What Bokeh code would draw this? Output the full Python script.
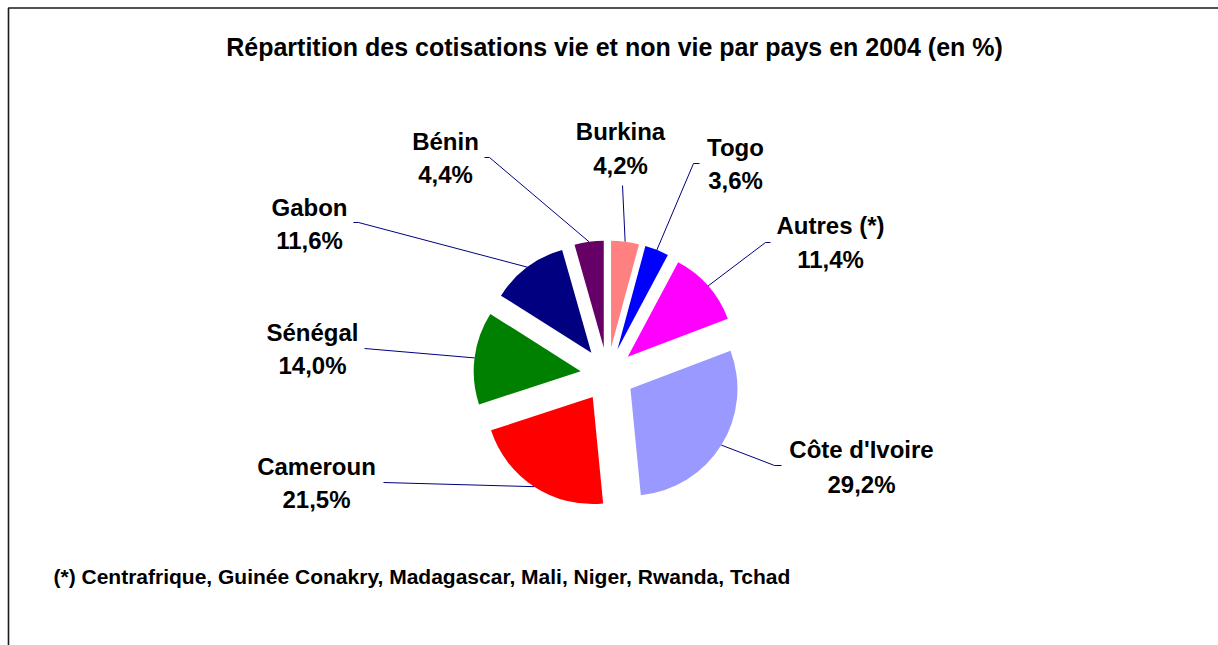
import math
from bokeh.plotting import figure
from bokeh.models import Range1d
from bokeh.core.properties import value
from bokeh.embed import file_html
from bokeh.resources import INLINE

# ---------------- data ----------------
countries = ["Burkina", "Togo", "Autres (*)", "Côte d'Ivoire", "Cameroun", "Sénégal", "Gabon", "Bénin"]
shares = [4.2, 3.6, 11.4, 29.2, 21.5, 14.0, 11.6, 4.4]
colors = ["#FF8080", "#0000FF", "#FF00FF", "#9999FF", "#FF0000", "#008000", "#000080", "#660066"]
title_text = "Répartition des cotisations vie et non vie par pays en 2004 (en %)"
footnote_text = "(*) Centrafrique, Guinée Conakry, Madagascar, Mali, Niger, Rwanda, Tchad"

# ---------------- layout (page pixel coords) ----------------
W, H = 1218, 645
def X(px):
    return px
def Y(py):
    return H - py

CX, CY = 607, 374      # pie centre
R = 107                # slice radius
EXPLODE = 27           # explosion offset
TXT_DY = 8             # text placement correction

# label positions: (x_center, name_y, pct_y)
label_pos = {
    "Burkina": (620, 139, 173),
    "Togo": (735, 155, 188),
    "Autres (*)": (830, 233, 267),
    "Côte d'Ivoire": (861, 457, 492),
    "Cameroun": (316, 474, 507),
    "Sénégal": (312, 340, 373),
    "Gabon": (309, 215, 248),
    "Bénin": (445, 149, 182),
}
# leader line anchor points near labels
leader_anchor = {
    "Burkina": [(622, 185)],
    "Togo": [(699, 163), (693, 163)],
    "Autres (*)": [(770, 242), (765, 242)],
    "Côte d'Ivoire": [(781, 465), (774, 465)],
    "Cameroun": [(383, 482)],
    "Sénégal": [(364, 348)],
    "Gabon": [(353, 222), (358, 222)],
    "Bénin": [(484, 157), (489, 157)],
}

FONT = value("Liberation Sans")

p = figure(width=W, height=H, x_range=Range1d(0, W), y_range=Range1d(0, H),
           output_backend="svg", toolbar_location=None, min_border=0,
           x_axis_type=None, y_axis_type=None)
p.grid.visible = False
p.outline_line_color = None
p.background_fill_color = "white"
p.border_fill_color = "white"

# frame (top and left edges visible in the reference)
p.line(x=[X(8), X(8), X(1300)], y=[Y(700), Y(7.5), Y(7.5)], line_color="#1a1a1a", line_width=1.6)

# ---------------- pie ----------------
total = sum(shares)
cum = 0.0
wx, wy, sa, ea, lx, ly, names_, pcts, nx, ny, pyb = [], [], [], [], [], [], [], [], [], [], []
for name, v, c in zip(countries, shares, colors):
    a0 = cum / total * 360.0
    cum += v
    a1 = cum / total * 360.0
    mid = math.radians((a0 + a1) / 2)
    cx = X(CX) + EXPLODE * math.sin(mid)
    cy = Y(CY) + EXPLODE * math.cos(mid)
    wx.append(cx)
    wy.append(cy)
    sa.append(math.radians(90 - a1))
    ea.append(math.radians(90 - a0))
    # leader line
    ex = cx + R * math.sin(mid)
    ey = cy + R * math.cos(mid)
    pts = leader_anchor[name]
    lx.append([X(a) for a, b in pts] + [ex])
    ly.append([Y(b) for a, b in pts] + [ey])
    # labels
    lxc, b1, b2 = label_pos[name]
    names_.append(name)
    pcts.append(("%.1f%%" % v).replace(".", ","))
    nx.append(X(lxc))
    ny.append(Y(b1 - TXT_DY))
    pyb.append(Y(b2 - TXT_DY))

p.wedge(x=wx, y=wy, radius=R, start_angle=sa, end_angle=ea, direction="anticlock",
        fill_color=colors, line_color=None)

p.multi_line(xs=lx, ys=ly, line_color="#000080", line_width=1)

p.text(x=nx, y=ny, text=names_, text_font=FONT, text_font_style="bold",
       text_font_size="24px", text_align="center", text_baseline="alphabetic", text_color="black")
p.text(x=nx, y=pyb, text=pcts, text_font=FONT, text_font_style="bold",
       text_font_size="24px", text_align="center", text_baseline="alphabetic", text_color="black")

# title and footnote
p.text(x=[X(614)], y=[Y(54 - TXT_DY)], text=[title_text], text_font=FONT, text_font_style="bold",
       text_font_size="25px", text_align="center", text_baseline="alphabetic", text_color="black")
p.text(x=[X(53)], y=[Y(576)], text=[footnote_text], text_font=FONT, text_font_style="bold",
       text_font_size="21px", text_align="left", text_baseline="alphabetic", text_color="black")

open("out.html", "w").write(file_html(p, INLINE))
